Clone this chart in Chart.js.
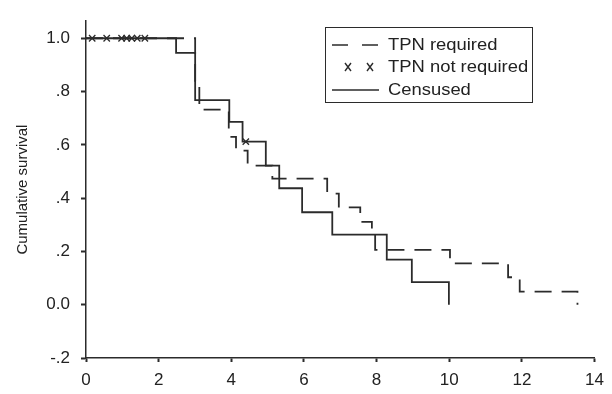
<!DOCTYPE html>
<html>
<head>
<meta charset="utf-8">
<script src="https://cdn.jsdelivr.net/npm/chart.js@4"></script>
<style>
  html, body { margin: 0; padding: 0; background: #fff; }
</style>
</head>
<body>
<canvas id="km" width="612" height="394"></canvas>
<script>
// Kaplan-Meier curves: time (x) and cumulative survival (y)
const requiredTimes = [0, 3.005, 3.12, 3.93, 4.13, 4.45, 5.13, 6.64, 6.96, 7.55, 7.87, 7.96, 10.02, 11.62, 11.94, 13.53]
const requiredSurv  = [1.0, 0.840, 0.732, 0.630, 0.578, 0.522, 0.473, 0.417, 0.365, 0.311, 0.263, 0.206, 0.155, 0.103, 0.049, 0.0]

const censusedTimes = [0, 2.48, 3.005, 3.945, 4.31, 4.95, 5.32, 5.95, 6.78, 8.28, 8.97, 9.99]
const censusedSurv  = [1.0, 0.945, 0.768, 0.686, 0.612, 0.522, 0.437, 0.347, 0.263, 0.169, 0.085, 0.0]

// censored marks
const notRequiredTimes = [0.17, 0.57, 0.98, 1.12, 1.26, 1.41, 1.62, 4.40]
const notRequiredSurv  = [1, 1, 1, 1, 1, 1, 1, 0.612]

const xTicks = [0, 2, 4, 6, 8, 10, 12, 14]
const yTicks = [-0.2, 0, 0.2, 0.4, 0.6, 0.8, 1.0]

const ink = '#2b2b2b'
const fontFamily = '"Liberation Sans", Arial, sans-serif'

function pts(xs, ys) {
    return xs.map((x, i) => ({x: x, y: ys[i]}))
}

function fmtY(v) {
    if (v === 0) return '0.0'
    if (v === 1) return '1.0'
    return v.toFixed(1).replace('0.', '.')
}

// legend drawn inside the plot, boxed like the original (text a bit wide, as in the scan)
const boxLegend = {
    id: 'boxLegend',
    afterDraw(chart) {
        const ctx = chart.ctx
        const items = chart.data.datasets
        const rows = [45, 67, 90]
        const stretch = 1.15
        ctx.save()
        ctx.strokeStyle = ink
        ctx.lineWidth = 1
        ctx.strokeRect(325.5, 27.5, 207, 75)

        items.forEach((ds, i) => {
            const y = rows[i]
            ctx.strokeStyle = ink
            ctx.lineWidth = 1.4
            if (ds.showLine === false) {
                [348, 370].forEach(cx => {
                    ctx.beginPath()
                    ctx.moveTo(cx - 3, y - 4); ctx.lineTo(cx + 3, y + 4)
                    ctx.moveTo(cx + 3, y - 4); ctx.lineTo(cx - 3, y + 4)
                    ctx.stroke()
                })
            } else {
                ctx.setLineDash(ds.borderDash ? [16, 14] : [])
                ctx.beginPath()
                ctx.moveTo(332, y)
                ctx.lineTo(379, y)
                ctx.stroke()
                ctx.setLineDash([])
            }
            ctx.save()
            ctx.translate(388, y + 1)
            ctx.scale(stretch, 1)
            ctx.font = '16px ' + fontFamily
            ctx.fillStyle = '#222'
            ctx.textBaseline = 'middle'
            ctx.fillText(ds.label, 0, 0)
            ctx.restore()
        })
        ctx.restore()
    }
}

new Chart(document.getElementById('km'), {
    type: 'line',
    data: {
        datasets: [
            {
                label: 'TPN required',
                data: pts(requiredTimes, requiredSurv),
                stepped: true,
                borderDash: [17, 10],
                borderColor: ink,
                borderWidth: 1.8,
                pointRadius: 0,
                fill: false
            },
            {
                label: 'TPN not required',
                data: pts(notRequiredTimes, notRequiredSurv),
                showLine: false,
                pointStyle: 'crossRot',
                pointRadius: 4.5,
                borderColor: ink,
                borderWidth: 1.3
            },
            {
                label: 'Censused',
                data: pts(censusedTimes, censusedSurv),
                stepped: true,
                borderColor: ink,
                borderWidth: 1.8,
                pointRadius: 0,
                fill: false
            }
        ]
    },
    options: {
        responsive: false,
        animation: false,
        devicePixelRatio: 1,
        layout: {padding: {top: 8, right: 15, left: 0, bottom: 0}},
        plugins: {legend: {display: false}, tooltip: {enabled: false}},
        scales: {
            x: {
                type: 'linear',
                min: 0,
                max: 14,
                afterBuildTicks: s => { s.ticks = xTicks.map(v => ({value: v})) },
                afterFit: s => { s.height = 36 },
                ticks: {color: '#222', font: {size: 17, family: fontFamily}, padding: 8, maxRotation: 0},
                grid: {drawOnChartArea: false, tickLength: 4, tickColor: ink, tickWidth: 2},
                border: {color: ink, width: 1.5}
            },
            y: {
                type: 'linear',
                min: -0.2,
                max: 1.064,
                afterBuildTicks: s => { s.ticks = yTicks.map(v => ({value: v})) },
                afterFit: s => { s.width = 86 },
                ticks: {color: '#222', font: {size: 17, family: fontFamily}, padding: 11, callback: fmtY},
                grid: {drawOnChartArea: false, tickLength: 5, tickColor: ink, tickWidth: 2},
                border: {color: ink, width: 1.5},
                title: {
                    display: true,
                    text: 'Cumulative survival',
                    color: '#222',
                    font: {size: 15, family: fontFamily},
                    padding: {top: 14, bottom: 0}
                }
            }
        }
    },
    plugins: [boxLegend]
})
</script>
</body>
</html>
